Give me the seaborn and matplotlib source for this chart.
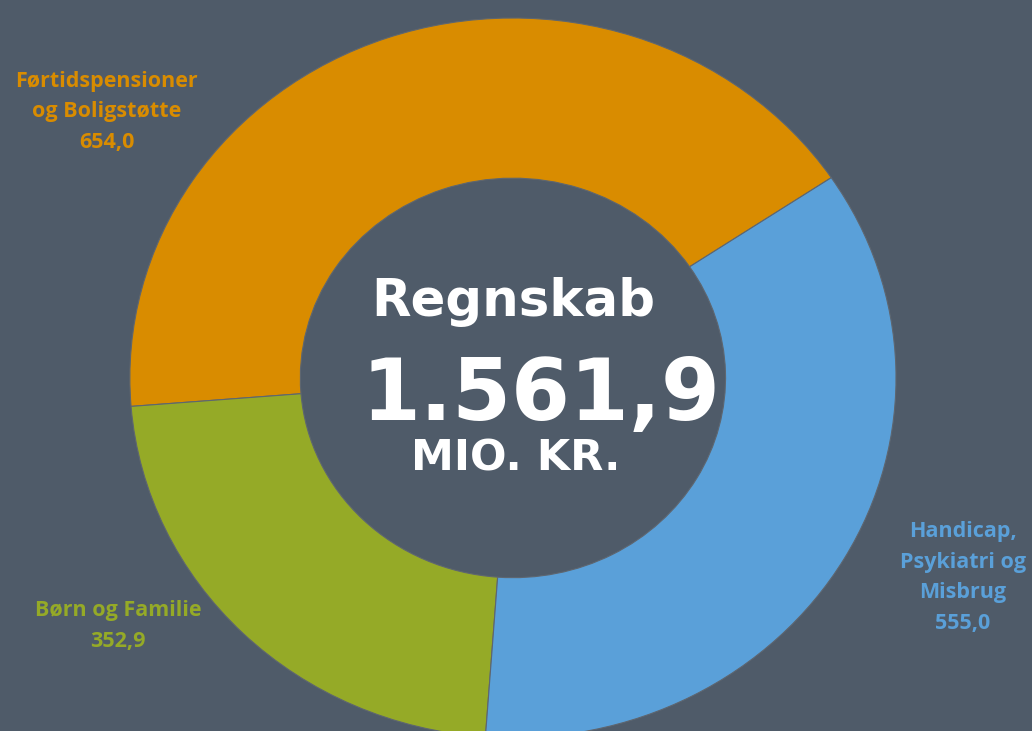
import seaborn as sns
import matplotlib.pyplot as plt

categories = ["Førtidspensioner\nog Boligstøtte", "Børn og Familie", "Handicap,\nPsykiatri og\nMisbrug"]
values = [654.0, 352.9, 555.0]
colors = ["#D98C00", "#95AA27", "#5AA0D9"]
total_label = "1.561,9"

bg = "#4F5B69"

sns.set_theme(style="white")
plt.rcParams['font.family'] = ['DejaVu Sans']

fig = plt.figure(figsize=(10.32, 7.31), dpi=100, facecolor=bg)
ax = fig.add_axes([0, 0, 1, 1])
ax.set_facecolor(bg)

wedges, _ = ax.pie(values, colors=colors, startangle=33.8, radius=1.0,
                   wedgeprops=dict(width=0.445, edgecolor="#5E6670", linewidth=0.8))
ax.set_aspect('auto')
ax.set_xlim(-1.339, 1.355)
ax.set_ylim(-0.981, 1.05)
ax.axis('off')

# labels outside the ring
lab_font = dict(family='Open Sans', fontweight='bold', fontsize=15.5, ha='center', va='center',
                linespacing=1.6)
ax.text(-1.06, 0.739, f"{categories[0]}\n{values[0]:.1f}".replace('.', ','),
        color=colors[0], **lab_font)
ax.text(-1.03, -0.689, f"{categories[1]}\n{values[1]:.1f}".replace('.', ','),
        color=colors[1], **lab_font)
ax.text(1.175, -0.554, f"{categories[2]}\n{values[2]:.1f}".replace('.', ','),
        color=colors[2], **lab_font)

# center text
ax.text(0.0, 0.21, "Regnskab", color="white", fontsize=37, fontweight='bold',
        ha='center', va='center')
ax.text(-0.395, -0.052, total_label, color="white", fontsize=61, fontweight='bold',
        ha='left', va='center')
ax.text(0.008, -0.225, "MIO. KR.", color="white", fontsize=31, fontweight='bold',
        ha='center', va='center')

fig.savefig("out.png", dpi=100, facecolor=bg)
